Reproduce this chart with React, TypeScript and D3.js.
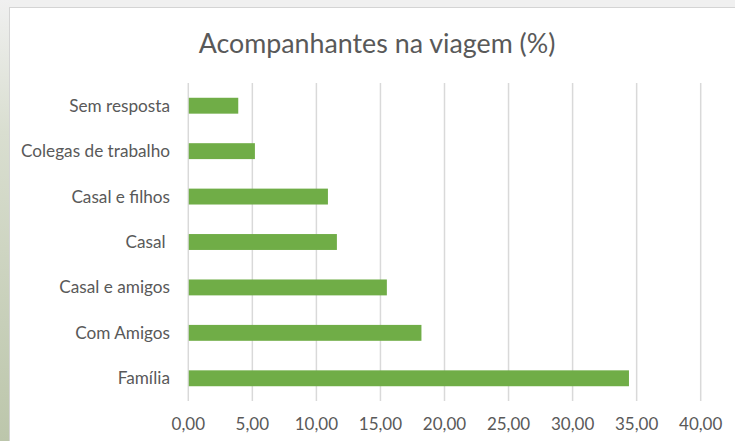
import React, { useRef, useEffect } from 'react'
import * as d3 from 'd3'

const categories = ['Sem resposta', 'Colegas de trabalho', 'Casal e filhos', 'Casal ', 'Casal e amigos', 'Com Amigos', 'Família']
const values = [3.9, 5.2, 10.9, 11.6, 15.5, 18.2, 34.4]
const ticks = [0, 5, 10, 15, 20, 25, 30, 35, 40]

const W = 735
const H = 441
const font = 'Lato, "Open Sans", sans-serif'

const App = () => {
  const ref = useRef<SVGSVGElement | null>(null)

  useEffect(() => {
    if (!ref.current) return
    const svg = d3.select(ref.current)
    svg.selectAll('*').remove()

    // slide background around the chart frame
    const defs = svg.append('defs')
    const grad = defs.append('linearGradient')
      .attr('id', 'leftBg').attr('x1', 0).attr('y1', 0).attr('x2', 0).attr('y2', 1)
    grad.append('stop').attr('offset', '0%').attr('stop-color', '#f0f0f0')
    grad.append('stop').attr('offset', '30%').attr('stop-color', '#d9ded0')
    grad.append('stop').attr('offset', '100%').attr('stop-color', '#bcc6ab')

    svg.append('rect').attr('width', W).attr('height', H).attr('fill', '#f0f0f0')
    svg.append('rect').attr('x', 0).attr('y', 0).attr('width', 10).attr('height', H).attr('fill', 'url(#leftBg)')
    svg.append('rect')
      .attr('x', 9.5).attr('y', 7.5).attr('width', W).attr('height', H)
      .attr('fill', '#ffffff').attr('stroke', '#d4d4d4').attr('stroke-width', 1)

    const x = d3.scaleLinear().domain([0, 40]).range([188.3, 700.7])
    const y = d3.scaleBand().domain(categories).range([83, 401]).paddingInner(0.65).paddingOuter(0.325)

    // title
    svg.append('text')
      .attr('x', 377).attr('y', 53)
      .attr('text-anchor', 'middle')
      .attr('font-family', font).attr('font-size', 26.8)
      .attr('fill', '#595959')
      .text('Acompanhantes na viagem (%)')

    // gridlines
    svg.append('g').selectAll('line')
      .data(ticks)
      .join('line')
      .attr('x1', d => x(d)).attr('x2', d => x(d))
      .attr('y1', 83).attr('y2', 401)
      .attr('stroke', '#d9d9d9').attr('stroke-width', 1.5)

    // bars
    svg.append('g').selectAll('rect')
      .data(values)
      .join('rect')
      .attr('x', x(0) + 0.5)
      .attr('y', (_, i) => y(categories[i]) as number)
      .attr('width', d => x(d) - x(0) - 0.5)
      .attr('height', y.bandwidth())
      .attr('fill', '#70ad47')

    // category labels
    svg.append('g').selectAll('text')
      .data(categories)
      .join('text')
      .attr('x', 170)
      .attr('y', d => (y(d) as number) + y.bandwidth() / 2)
      .attr('dy', '0.35em')
      .attr('text-anchor', 'end')
      .attr('font-family', font).attr('font-size', 17.2)
      .attr('fill', '#595959')
      .style('white-space', 'pre')
      .text(d => d)

    // tick labels
    svg.append('g').selectAll('text')
      .data(ticks)
      .join('text')
      .attr('x', d => x(d))
      .attr('y', 430)
      .attr('text-anchor', 'middle')
      .attr('font-family', font).attr('font-size', 17)
      .attr('fill', '#595959')
      .text(d => d3.format('.2f')(d).replace('.', ','))
  }, [])

  return (
    <svg ref={ref} width={W} height={H} style={{ position: 'absolute', left: 0, top: 0 }} />
  )
}

export default App
